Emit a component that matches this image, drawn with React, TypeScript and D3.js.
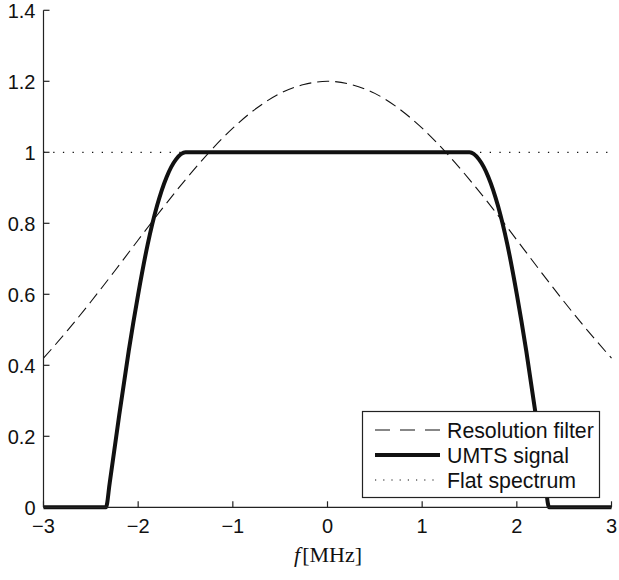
import React from "react";
import * as d3 from "d3";

// Resolution filter (Gaussian-like)
const filterX = [-3, -2.75, -2.5, -2.25, -2, -1.75, -1.5, -1.25, -1, -0.75, -0.5, -0.25, 0, 0.25, 0.5, 0.75, 1, 1.25, 1.5, 1.75, 2, 2.25, 2.5, 2.75, 3];
const filterY = [0.42, 0.497, 0.579, 0.665, 0.753, 0.84, 0.923, 1.0, 1.068, 1.124, 1.166, 1.191, 1.2, 1.191, 1.166, 1.124, 1.068, 1.0, 0.923, 0.84, 0.753, 0.665, 0.579, 0.497, 0.42];

// UMTS signal spectrum
const umtsX = [-3, -2.34, -2.3, -2.2, -2.1, -2.0, -1.9, -1.8, -1.7, -1.6, -1.5, 1.5, 1.6, 1.7, 1.8, 1.9, 2.0, 2.1, 2.2, 2.3, 2.34, 3];
const umtsY = [0, 0, 0.07, 0.26, 0.44, 0.6, 0.74, 0.85, 0.93, 0.98, 1, 1, 0.98, 0.93, 0.85, 0.74, 0.6, 0.44, 0.26, 0.07, 0, 0];

// Flat spectrum
const flatX = [-3, 3];
const flatY = [1, 1];

const xTicks = [-3, -2, -1, 0, 1, 2, 3];
const yTicks = [0, 0.2, 0.4, 0.6, 0.8, 1, 1.2, 1.4];
const legendLabels = ["Resolution filter", "UMTS signal", "Flat spectrum"];

const W = 619;
const H = 580;

export default function App() {
  const x = d3.scaleLinear().domain([-3, 3]).range([43.5, 611.5]);
  const y = d3.scaleLinear().domain([0, 1.4]).range([507.3, 10.3]);

  const mk = (xs: number[], ys: number[]) => xs.map((v, i) => [v, ys[i]] as [number, number]);
  const line = d3.line<[number, number]>().x((d) => x(d[0])).y((d) => y(d[1]));
  const natural = d3.line<[number, number]>().x((d) => x(d[0])).y((d) => y(d[1])).curve(d3.curveNatural);
  const mono = d3.line<[number, number]>().x((d) => x(d[0])).y((d) => y(d[1])).curve(d3.curveMonotoneX);

  const fmt = (v: number) => d3.format("~g")(v).replace("-", "\u2212").replace("\u2212", "\u2212");

  const axisColor = "#222";
  const lineColor = "#111";
  const sans = "'Liberation Sans', Arial, Helvetica, sans-serif";
  const serif = "'Liberation Serif', 'Times New Roman', serif";

  const lgX = 362.5, lgY = 411.5, lgW = 237, lgH = 86;
  const rowY = [430, 455, 480];

  return (
    <div style={{ position: "fixed", left: 0, top: 0, width: W, height: H, overflow: "hidden", background: "#fff" }}>
      <svg width={W} height={H} style={{ display: "block" }}>
        <rect x={0} y={0} width={W} height={H} fill="#fff" />
        {/* data lines */}
        <path d={line(mk(flatX, flatY)) || ""} fill="none" stroke={lineColor} strokeWidth={1.3} strokeDasharray="1.3,8.4" />
        <path d={natural(mk(filterX, filterY)) || ""} fill="none" stroke={lineColor} strokeWidth={1.1} strokeDasharray="12,6" />
        <path d={mono(mk(umtsX, umtsY)) || ""} fill="none" stroke={lineColor} strokeWidth={4} strokeLinejoin="round" />

        {/* axes */}
        <line x1={x(-3)} x2={x(-3)} y1={y(0)} y2={y(1.4)} stroke={axisColor} strokeWidth={1.2} />
        <line x1={x(-3)} x2={x(3)} y1={y(0)} y2={y(0)} stroke={axisColor} strokeWidth={1.2} />
        {yTicks.map((t) => (
          <g key={"y" + t}>
            <line x1={x(-3)} x2={x(-3) + 6} y1={y(t)} y2={y(t)} stroke={axisColor} strokeWidth={1.2} />
            <text x={35.5} y={y(t)} dy="0.36em" textAnchor="end" fontFamily={sans} fontSize={20} fill="#111">
              {fmt(t)}
            </text>
          </g>
        ))}
        {xTicks.map((t) => (
          <g key={"x" + t}>
            <line x1={x(t)} x2={x(t)} y1={y(0)} y2={y(0) - 6} stroke={axisColor} strokeWidth={1.2} />
            <text x={x(t)} y={533} textAnchor="middle" fontFamily={sans} fontSize={20} fill="#111">
              {fmt(t)}
            </text>
          </g>
        ))}
        <text x={328} y={562} textAnchor="middle" fontFamily={serif} fontSize={22} fill="#111">
          <tspan fontStyle="italic">f</tspan>
          <tspan dx={2}>[MHz]</tspan>
        </text>

        {/* legend */}
        <rect x={lgX} y={lgY} width={lgW} height={lgH} fill="#fff" stroke="#222" strokeWidth={1.2} />
        <line x1={375} x2={440} y1={rowY[0]} y2={rowY[0]} stroke={lineColor} strokeWidth={1.1} strokeDasharray="15,10" />
        <line x1={375} x2={440} y1={rowY[1]} y2={rowY[1]} stroke={lineColor} strokeWidth={4} />
        <line x1={375} x2={440} y1={rowY[2]} y2={rowY[2]} stroke={lineColor} strokeWidth={1.2} strokeDasharray="1.2,7" />
        {legendLabels.map((l, i) => (
          <text key={l} x={447} y={rowY[i]} dy="0.36em" fontFamily={sans} fontSize={21.3} fill="#111">
            {l}
          </text>
        ))}
      </svg>
    </div>
  );
}
